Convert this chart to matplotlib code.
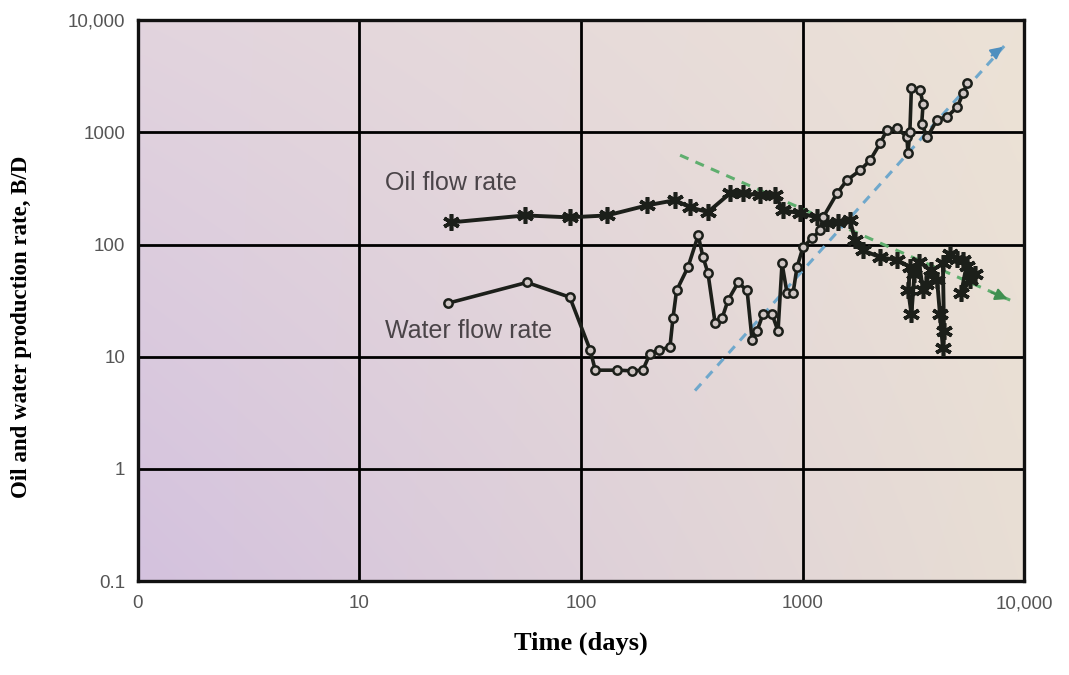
import matplotlib
matplotlib.use("Agg")
import matplotlib.pyplot as plt
import numpy as np

# Oil flow rate (days, B/D)
oil_days = [26, 56, 89, 131, 199, 266, 310, 374, 471, 538, 643, 751, 817,
            975, 1163, 1290, 1450, 1638, 1725, 1875, 2240, 2670, 3060,
            3000, 3100, 3200, 3350, 3500, 3600, 3800, 4050, 4170, 4300,
            4350, 4300, 4640, 5000, 5300, 5700, 5200, 5500, 6000]
oil_rate = [158, 182, 175, 182, 224, 249, 215, 195, 287, 287, 276, 276, 203,
            190, 175, 155, 160, 165, 110, 89, 77, 73, 63,
            39, 24, 55, 70, 39, 45, 60, 48, 24, 12,
            17, 68, 83, 75, 73, 48, 37, 65, 55]

# Water flow rate (days, B/D)
water_days = [25, 57, 89, 110, 116, 146, 170, 190, 205, 225, 252, 260, 270,
              304, 338, 355, 374, 403, 433, 461, 512, 562, 592, 623, 663,
              728, 775, 808, 851, 906, 944, 1005, 1104, 1200, 1238, 1432,
              1586, 1820, 2018, 2240, 2400, 2670, 2960, 2990, 3050, 3100,
              3390, 3500, 3450, 3650, 4050, 4490, 4990, 5310, 5530]
water_rate = [30, 46, 34, 11.5, 7.6, 7.6, 7.5, 7.6, 10.7, 11.5, 12.2, 22, 39,
              63, 121, 78, 56, 20, 22, 32, 46, 39, 14, 17, 24,
              24, 17, 68, 37, 37, 63, 95, 114, 134, 175, 287,
              375, 460, 565, 800, 1045, 1100, 905, 650, 1000, 2500,
              2380, 1800, 1200, 905, 1300, 1380, 1680, 2240, 2770]

# trend lines (start, end)
oil_trend_days = [280, 8650]
oil_trend_rate = [627, 32]
water_trend_days = [327, 8200]
water_trend_rate = [5, 6000]

x_ticks = [1, 10, 100, 1000, 10000]
x_ticklabels = ["0", "10", "100", "1000", "10,000"]
y_ticks = [0.1, 1, 10, 100, 1000, 10000]
y_ticklabels = ["0.1", "1", "10", "100", "1000", "10,000"]

fig = plt.figure(figsize=(10.69, 6.75), dpi=100)
ax = fig.add_axes([0.129, 0.139, 0.829, 0.831])
ax.set_xscale("log")
ax.set_yscale("log")
ax.set_xlim(1, 10000)
ax.set_ylim(0.1, 10000)

# background gradient, lavender on the left to beige on the right
corners = np.array([[[226, 212, 222], [236, 226, 214]],
                    [[212, 194, 222], [232, 222, 212]]]) / 255.0
n = 64
u = np.linspace(0, 1, n)
top = corners[0, 0] * (1 - u[:, None]) + corners[0, 1] * u[:, None]
bot = corners[1, 0] * (1 - u[:, None]) + corners[1, 1] * u[:, None]
v = np.linspace(0, 1, n)[:, None, None]
grad = top[None, :, :] * (1 - v) + bot[None, :, :] * v
ax.imshow(grad, extent=[0, 1, 0, 1], transform=ax.transAxes,
          aspect="auto", zorder=0, interpolation="bilinear")

ax.grid(True, which="major", color="black", linewidth=2.0, zorder=1)
ax.minorticks_off()
for s in ax.spines.values():
    s.set_linewidth(2.4)
    s.set_color("#111111")

# trend lines with arrow heads
ax.plot(oil_trend_days, oil_trend_rate, linestyle=(0, (3, 2.5)),
        color="#5fae6e", linewidth=2.2, zorder=2)
ax.annotate("", xy=(oil_trend_days[1], oil_trend_rate[1]),
            xytext=(oil_trend_days[1] * 0.8, oil_trend_rate[1] * 1.2),
            arrowprops=dict(arrowstyle="-|>", color="#3f8f50",
                            mutation_scale=18, lw=1.5), zorder=2)
ax.plot(water_trend_days, water_trend_rate, linestyle=(0, (3, 2.5)),
        color="#6fa8cc", linewidth=2.2, zorder=2)
ax.annotate("", xy=(water_trend_days[1], water_trend_rate[1]),
            xytext=(water_trend_days[1] * 0.85, water_trend_rate[1] * 0.78),
            arrowprops=dict(arrowstyle="-|>", color="#4f8fbf",
                            mutation_scale=18, lw=1.5), zorder=2)

ax.plot(oil_days, oil_rate, color="#1c1f1a", linewidth=2.8,
        marker=(6, 2, 0), markersize=12, markeredgewidth=2.6, zorder=3)
ax.plot(water_days, water_rate, color="#1c1f1a", linewidth=2.6,
        marker="o", markersize=6, markerfacecolor="#cfc6c4",
        markeredgecolor="#1c1f1a", markeredgewidth=1.8, zorder=4)

ax.text(13, 352, "Oil flow rate", fontsize=18, color="#4a4448",
        family="Liberation Sans", ha="left", va="center", zorder=5)
ax.text(13, 17, "Water flow rate", fontsize=18, color="#4a4448",
        family="Liberation Sans", ha="left", va="center", zorder=5)

ax.set_xticks(x_ticks)
ax.set_xticklabels(x_ticklabels)
ax.set_yticks(y_ticks)
ax.set_yticklabels(y_ticklabels)
ax.tick_params(axis="both", length=0, labelsize=13.5, labelcolor="#555555")
ax.tick_params(axis="x", pad=10)
ax.tick_params(axis="y", pad=9)
for lab in ax.get_xticklabels() + ax.get_yticklabels():
    lab.set_family("Liberation Sans")

ax.set_xlabel("Time (days)", fontsize=19, fontweight="bold",
              family="Liberation Serif", labelpad=14)
ax.set_ylabel("Oil and water production rate, B/D", fontsize=16.5,
              fontweight="bold", family="Liberation Serif")
ax.yaxis.set_label_coords(-0.120, 0.453)

fig.savefig("out.png", dpi=100)
